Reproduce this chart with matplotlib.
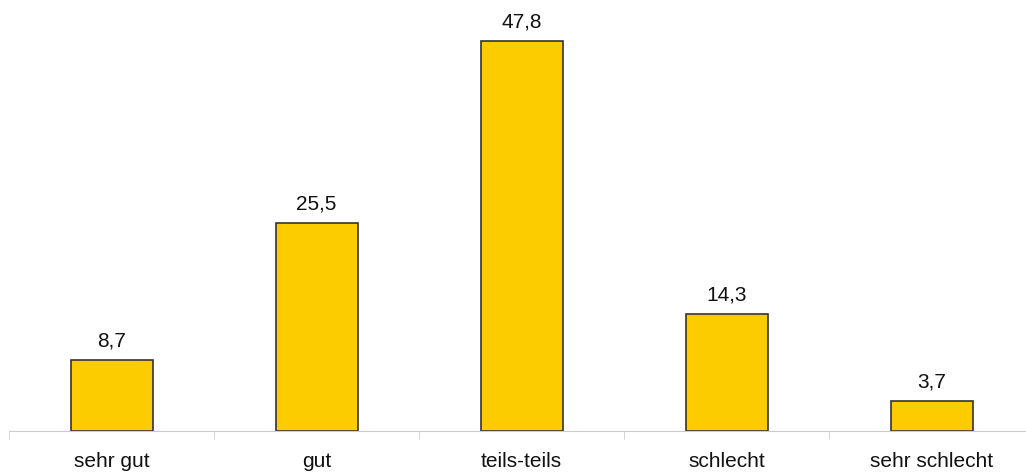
import numpy as np
import matplotlib.pyplot as plt

categories = ['sehr gut', 'gut', 'teils-teils', 'schlecht', 'sehr schlecht']
values = [8.7, 25.5, 47.8, 14.3, 3.7]

plt.rcParams['font.family'] = ['Liberation Sans', 'DejaVu Sans']

fig = plt.figure(figsize=(10.26, 4.72), dpi=100)
ax = fig.add_axes([9 / 1026, 1 - 431 / 472, 1025 / 1026, 431 / 472])

x = np.arange(len(categories))
bars = ax.bar(x, values, width=0.4, color='#fccc00', edgecolor='#333333', linewidth=1.2)

for xi, v in zip(x, values):
    ax.annotate(str(v).replace('.', ','), (xi, v), xytext=(0, 7), textcoords='offset points',
                ha='center', va='bottom', fontsize=15, color='#111111')

ax.set_xlim(-0.5, 4.5)
ax.set_ylim(0, 52.8)
for s in ['top', 'right', 'left']:
    ax.spines[s].set_visible(False)
ax.spines['bottom'].set_color('#cccccc')
ax.set_yticks([])
ax.set_xticks(x)
ax.set_xticklabels(categories, fontsize=15, color='#111111')
ax.tick_params(axis='x', which='major', length=0, pad=15)
ax.set_xticks(np.arange(-0.5, 4.5, 1), minor=True)
ax.tick_params(axis='x', which='minor', length=6, color='#cccccc')

plt.savefig('out.png', dpi=100)
